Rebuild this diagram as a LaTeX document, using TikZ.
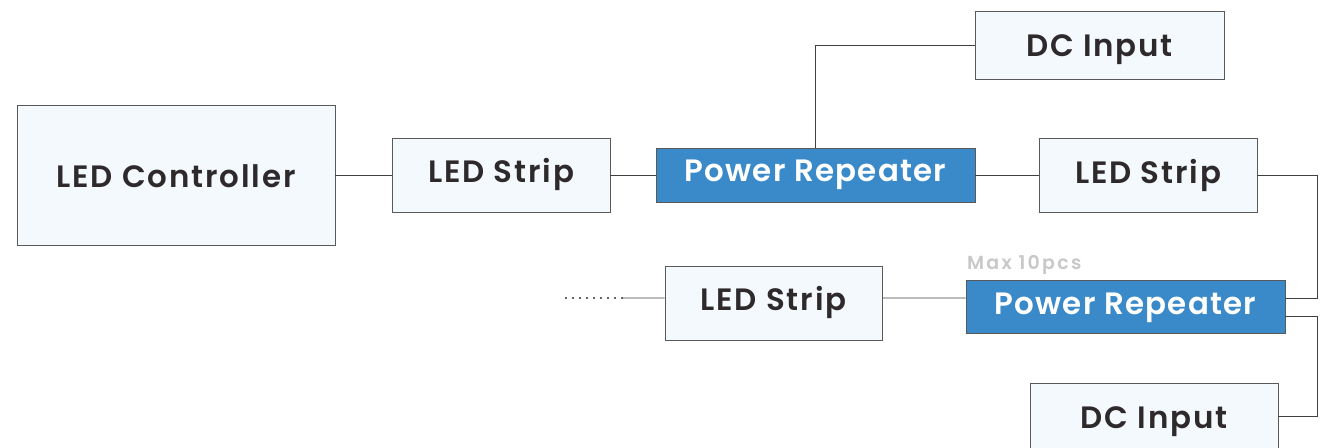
\documentclass[tikz,border=0pt]{standalone}
\usepackage{fontspec}
\setmainfont{Poppins}[BoldFont={* SemiBold},LetterSpace=6]
\begin{document}
\begin{tikzpicture}[x=1bp,y=-1bp,
  lbl/.style={inner sep=0pt,text height=22bp,text depth=6bp,font=\bfseries\fontsize{31}{36}\selectfont},
  lbox/.style={lbl,draw=black!65,line width=0.9bp,fill=lightbg,text=darktext},
  bbox/.style={lbl,draw=black!65,line width=0.9bp,fill=repblue,text=white,
    font=\bfseries\fontsize{31}{36}\selectfont\addfontfeature{LetterSpace=4}},
  conn/.style={draw=black!75,line width=0.8bp}]
\definecolor{lightbg}{HTML}{F4F9FD}
\definecolor{repblue}{HTML}{3A89C9}
\definecolor{darktext}{HTML}{2E2A2B}
\definecolor{notegray}{HTML}{C8C8C8}
\useasboundingbox (0,0) rectangle (1341,448);
\node[lbox,minimum width=318bp,minimum height=140bp,text height=26bp,text depth=0bp] (ctrl) at (176,175) {LED Controller};
\node[lbox,minimum width=218bp,minimum height=74bp] (s1) at (501,175) {LED Strip};
\node[bbox,minimum width=319bp,minimum height=54bp,text depth=8bp] (pr1) at (815.5,175) {Power Repeater};
\node[lbox,minimum width=249bp,minimum height=68bp,text height=24bp,text depth=0bp] (dc1) at (1099.5,45) {DC Input};
\node[lbox,minimum width=218bp,minimum height=74bp,text depth=5bp] (s2) at (1148,175) {LED Strip};
\node[bbox,minimum width=319bp,minimum height=53bp] (pr2) at (1125.5,306.5) {Power Repeater};
\node[lbox,minimum width=217bp,minimum height=74bp] (s3) at (773.5,303) {LED Strip};
\node[lbox,minimum width=248bp,minimum height=80bp] (dc2) at (1154,423) {};
\node[lbl,text=darktext,text depth=0bp] (dc2t) at (1154,417) {DC Input};
\node[anchor=west,text=notegray,inner sep=0pt,text height=13bp,text depth=0pt,font=\bfseries\fontsize{19}{22}\selectfont\addfontfeature{LetterSpace=12}] (note) at (967,263.5) {Max 10pcs};
\coordinate (dots1) at (623,298);
\coordinate (dots2) at (563,298);
\draw[conn] (ctrl.east |- s1.west) -- (s1.west);
\draw[conn] (s1.east) -- (pr1.west);
\draw[conn] (pr1.north) |- (dc1.west);
\draw[conn] (pr1.east) -- (s2.west);
\draw[conn] (s2.east) -- ++(60,0) |- ([yshift=8.5bp]pr2.east);
\draw[conn] ([yshift=-9.5bp]pr2.east) -- ++(32,0) |- ([yshift=7bp]dc2.east);
\draw[conn] ([yshift=8.5bp]pr2.west) -- ([yshift=5bp]s3.east);
\draw[conn] ([yshift=5bp]s3.west) -- (dots1);
\draw[draw=black!60,line width=1.6bp,dash pattern=on 1.6bp off 5.4bp] (dots1) -- (dots2);
\end{tikzpicture}
\end{document}
